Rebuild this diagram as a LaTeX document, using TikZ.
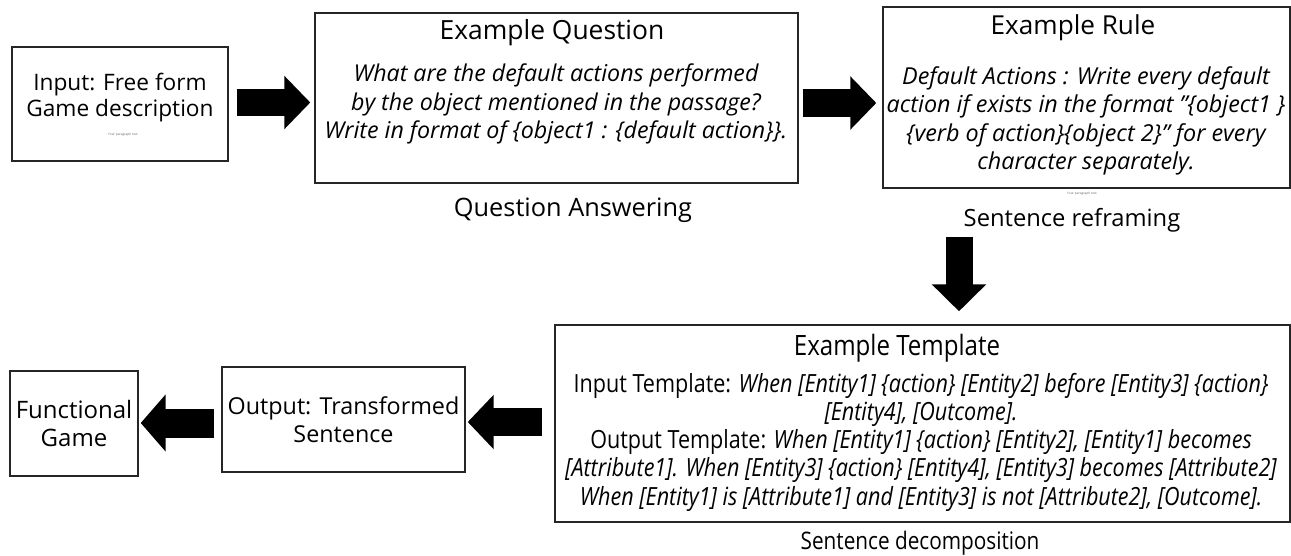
\documentclass[tikz,border=0pt]{standalone}
\usepackage{fontspec}
\setmainfont{Open Sans}
\newfontfamily\condfont[FakeStretch=0.86]{Open Sans}
\usetikzlibrary{arrows.meta}
\begin{document}
\begin{tikzpicture}[x=0.75pt,y=-0.75pt,
  box/.style={draw=black!85, line width=1.1pt, inner sep=0pt},
  txt/.style={inner sep=0pt, align=center, text=black},
  fatarrow/.style n args={3}{line width=#1, draw=black,
    -{Triangle[width=#2,length=#3]}},
  tiny/.style={inner sep=0pt, text=black!60, font=\fontsize{2.4}{3}\selectfont}]
\useasboundingbox (0,0) rectangle (1291,556);

% ---- top row boxes ----
\node[box, minimum width=162pt, minimum height=85.5pt] (in) at (120,104) {};
\node[box, minimum width=362.25pt, minimum height=127.5pt] (q) at (556.5,98) {};
\node[box, minimum width=305.25pt, minimum height=135.75pt] (r) at (1086.5,97.5) {};

% ---- bottom row boxes ----
\node[box, minimum width=551.25pt, minimum height=147.75pt] (t) at (922.5,423.5) {};
\node[box, minimum width=182.25pt, minimum height=78.75pt, txt,
      font=\fontsize{17.5}{21}\selectfont] (o) at (343.5,419.5)
      {Output: Transformed\\Sentence};
\node[box, minimum width=96pt, minimum height=78.75pt, txt,
      font=\fontsize{18}{21}\selectfont] (f) at (74,423.5)
      {Functional\\Game};

% ---- input box text ----
\node[txt, font=\fontsize{17}{19.5}\selectfont] (intext) at (120,98)
  {Input: Free form\\Game description};
\node[tiny] (inpara) at (123,135) {Your paragraph text};

% ---- question box text ----
\node[txt, font=\fontsize{19.8}{22}\selectfont] (qtitle) at (552,33) {Example Question};
\node[txt, font=\fontsize{17.4}{21.4}\selectfont\itshape] (qbody) at (556,104)
  {What are the default actions performed\\
   by the object mentioned in the passage?\\
   Write in format of \{object1 : \{default action\}\}.};
\node[txt, font=\fontsize{19}{22}\selectfont] (qlabel) at (573,210) {Question Answering};

% ---- rule box text ----
\node[txt, font=\fontsize{19.6}{22}\selectfont] (rtitle) at (1073,28) {Example Rule};
\node[txt, font=\fontsize{17.5}{21.2}\selectfont\itshape] (rbody) at (1086,121)
  {Default Actions : Write every default\\
   action if exists in the format "\{object1 \}\\
   \{verb of action\}\{object 2\}" for every\\
   character separately.};
\node[tiny] (rpara) at (1082,194) {Your paragraph text};
\node[txt, font=\fontsize{17.8}{22}\selectfont] (rlabel) at (1072,220) {Sentence reframing};

% ---- template box text ----
\node[txt, font=\condfont\fontsize{21}{24}\selectfont] (ttitle) at (897,348) {Example Template};
\node[txt, font=\condfont\fontsize{18.8}{21.2}\selectfont] (tbody) at (921,442)
  {Input Template: \textit{When [Entity1] \{action\} [Entity2] before [Entity3] \{action\}}\\
   \textit{[Entity4], [Outcome].}\\
   Output Template: \textit{When [Entity1] \{action\} [Entity2], [Entity1] becomes}\\
   \textit{[Attribute1]. When [Entity3] \{action\} [Entity4], [Entity3] becomes [Attribute2]}\\
   \textit{When [Entity1] is [Attribute1] and [Entity3] is not [Attribute2], [Outcome].}};
\node[txt, font=\condfont\fontsize{18.1}{22}\selectfont] (tlabel) at (920,543) {Sentence decomposition};

% ---- block arrows ----
\draw[fatarrow={20.25pt}{39pt}{19.5pt}]
  ([xshift=6pt,yshift=1.125pt]in.east) -- ([xshift=-3pt,yshift=-3.375pt]q.west);
\draw[fatarrow={20.6pt}{39pt}{19.5pt}]
  ([xshift=3pt,yshift=-3.75pt]q.east) -- ([xshift=-4.5pt,yshift=-4.125pt]r.west);
\draw[fatarrow={20.25pt}{39.75pt}{20.25pt}]
  ([xshift=-95.625pt,yshift=-36pt]r.south) -- ([xshift=27.375pt,yshift=9.75pt]t.north);
\draw[fatarrow={21pt}{39.75pt}{19.5pt}]
  ([xshift=-9pt,yshift=1.125pt]t.west) -- ([xshift=1.5pt,yshift=-1.875pt]o.east);
\draw[fatarrow={21.75pt}{42pt}{18.75pt}]
  ([xshift=-5.25pt,yshift=-2.625pt]o.west) -- ([xshift=1.5pt,yshift=0.375pt]f.east);
\end{tikzpicture}
\end{document}
